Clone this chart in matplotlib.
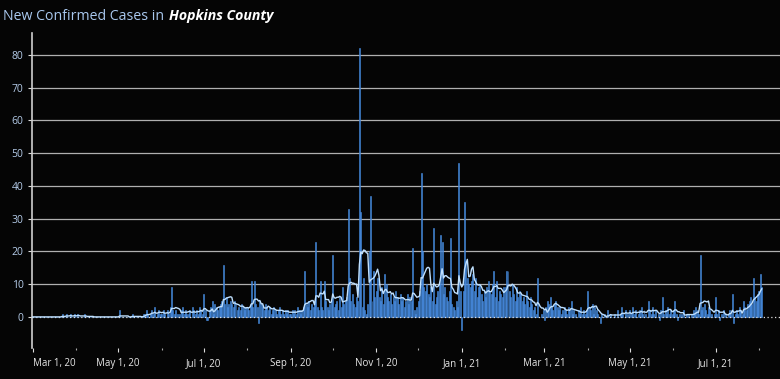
import matplotlib.pyplot as plt
import matplotlib.dates as mdates
import numpy as np
import pandas as pd

# daily new cases
mar20 = [0, 0, 0, 0, 0, 0, 0, 0, 0, 0, 0, 0, 0, 0, 0, 0, 0, 0, 0, 0, 0, 1, 0, 0, 1, 0, 0, 1, 0, 0, 1]
apr20 = [0, 1, 0, 0, 0, 0, 1, 0, 0, 0, 0, 0, 0, 0, 0, 0, 0, 0, 0, 0, 0, 0, 0, 0, 0, 0, 0, 0, 0, 0]
may20 = [0, 2, 0, 0, 0, 0, 0, 0, 0, 0, 1, 0, 0, 0, 0, 0, 0, 0, 1, 1, 2, 1, 0, 1, 2, 1, 3, 0, 1, 2, 1]
jun20 = [1, 2, 1, 0, 2, 1, 3, 9, 2, 1, 2, 1, 0, 1, 2, 3, 1, 2, 1, 1, 2, 0, 3, 2, 1, 2, 1, 3, 2, 1]
jul20 = [7, 2, -1, -1, 2, 3, 5, 1, 4, 3, 2, 3, 4, 5, 16, 4, 6, 3, 4, 5, 4, 3, 5, 4, 2, 3, 2, 4, 3, 2, 3]
aug20 = [3, 2, 4, 11, 3, 11, 4, 3, -2, 5, 4, 3, 2, 4, 3, 2, 3, 1, 2, 3, 2, 1, 2, 3, 1, 2, 1, 2, 1, 2, 1]
sep20 = [1, 2, 1, 2, 1, 3, 2, 1, 2, 3, 14, 4, 3, 5, 2, 4, 3, 5, 23, 3, 2, 11, 3, 2, 11, 5, 3, 2, 4, 5]
oct20 = [19, 3, 4, 5, 2, 6, 3, 9, 4, 5, 6, 33, 12, 5, 7, 4, 3, 6, 5, 82, 32, 3, 12, 2, 1, 4, 20, 37, 5, 14, 6]
nov20 = [8, 12, 6, 5, 9, 4, 13, 10, 6, 5, 7, 4, 6, 5, 8, 6, 4, 7, 5, 6, 3, 5, 7, 4, 6, 5, 21, 2, 1, 3]
dec20 = [5, 8, 44, 20, 9, 8, 10, 7, 6, 9, 5, 27, 4, 6, 8, 10, 25, 23, 7, 9, 6, 5, 8, 24, 4, 3, 2, 5, 3, 47, 8]
jan21 = [-4, 8, 35, 17, 12, 10, 9, 11, 13, 8, 12, 6, 9, 10, 7, 5, 8, 6, 9, 11, 8, 7, 10, 14, 6, 11, 5, 8, 7, 6, 9]
feb21 = [9, 14, 14, 8, 6, 10, 7, 5, 9, 6, 8, 7, 5, 6, 4, 8, 5, 3, 6, 4, 2, 3, 1, 12, 0, 0, 1, 2]
mar21 = [-1, 3, 5, 4, 6, 3, 2, 4, 5, 3, 2, 3, 1, 2, 3, 2, 1, 3, 2, 5, 1, 2, 1, 0, 2, 1, 3, 1, 2, 1, 2]
apr21 = [8, 3, 2, 4, 1, 3, 2, 1, 0, -2, 1, 0, 1, 0, 2, 0, 1, 0, 0, 1, 0, 2, 0, 1, 3, 1, 0, 2, 1, 0]
may21 = [2, 1, 3, 1, 2, 0, 1, 2, 3, 1, 2, 1, 0, 5, 2, 1, 3, 1, 2, 0, 1, -1, 2, 6, 1, 2, 1, 3, 1, 2, 1]
jun21 = [2, 5, 1, -1, 1, 0, 1, 2, 0, 1, 0, 1, 0, 1, 2, 1, 3, 2, 1, 19, 2, 3, 4, 2, 1, 3, 2, 1, 0, 1]
jul21 = [6, 1, 2, -1, 1, 0, 2, 1, 0, 1, 2, 1, 7, -2, 1, 2, 1, 3, 2, 1, 5, 3, 2, 4, 5, 6, 4, 12, 6, 5, 7]
aug21 = [8, 13, 9]

tick_dates = ["2020-03-01", "2020-05-01", "2020-07-01", "2020-09-01", "2020-11-01",
              "2021-01-01", "2021-03-01", "2021-05-01", "2021-07-01"]
tick_labels = ["Mar 1, 20", "May 1, 20", "Jul 1, 20", "Sep 1, 20", "Nov 1, 20",
               "Jan 1, 21", "Mar 1, 21", "May 1, 21", "Jul 1, 21"]
y_ticks = [0, 10, 20, 30, 40, 50, 60, 70, 80]

cases = (mar20 + apr20 + may20 + jun20 + jul20 + aug20 + sep20 + oct20 + nov20 + dec20
         + jan21 + feb21 + mar21 + apr21 + may21 + jun21 + jul21 + aug21)
dates = pd.date_range("2020-03-01", periods=len(cases), freq="D")
avg = pd.Series(cases).rolling(7, min_periods=1).mean()

bg = "#050505"
bar_color = "#3a7fd6"
title_color = "#a9c8ee"
label_color = "#b4cbe8"

plt.rcParams['font.family'] = ['Open Sans', 'DejaVu Sans']

fig = plt.figure(figsize=(7.8, 3.79), dpi=100, facecolor=bg)
ax = fig.add_axes([32 / 780, 1 - 348 / 379, 748 / 780, 315 / 379])
ax.set_facecolor(bg)

for y in y_ticks[1:]:
    ax.axhline(y, color="#b0b0b0", linewidth=0.9, zorder=1)
ax.axhline(0, color="#e0e0e0", linewidth=0.9, linestyle=(0, (1, 2)), zorder=3)

ax.bar(dates, cases, width=0.7, color=bar_color, edgecolor="#4a8ee0", linewidth=0.4, zorder=2)
ax.plot(dates, avg, color="#bfe0ff", linewidth=1.0, zorder=4)

ax.set_ylim(-9.5, 86.7)
ax.set_xlim(pd.Timestamp("2020-02-29 12:00"), pd.Timestamp("2021-08-16"))
ax.set_yticks(y_ticks)
ax.set_yticklabels([str(v) for v in y_ticks], color=label_color, fontsize=7.5)

ax.set_xticks(pd.to_datetime(tick_dates))
ax.set_xticklabels(tick_labels, color="#e8e8e8", fontsize=7)
ax.xaxis.set_minor_locator(mdates.MonthLocator(bymonth=[4, 6, 8, 10, 12, 2]))
ax.tick_params(axis='x', which='major', length=3, width=0.8, color="#dddddd", pad=4)
ax.tick_params(axis='x', which='minor', length=1.5, width=0.8, color="#aaaaaa")
ax.tick_params(axis='y', length=3, width=0.8, color="#dddddd", pad=3)
ax.get_xticklabels()[0].set_horizontalalignment('left')

for side in ["top", "right", "bottom"]:
    ax.spines[side].set_visible(False)
ax.spines["left"].set_color("#cfcfcf")
ax.spines["left"].set_linewidth(1.2)

t1 = fig.text(3 / 780, 1 - 16 / 379, "New Confirmed Cases in", color=title_color,
              fontsize=10.2, va="center", ha="left")
fig.canvas.draw()
t1_end = t1.get_window_extent().x1 / fig.bbox.width
fig.text(t1_end + 5 / 780, 1 - 16 / 379, "Hopkins County", color="white", fontsize=10.2,
         fontstyle="italic", fontweight="bold", va="center", ha="left")

plt.savefig("out.png", dpi=100, facecolor=bg)
